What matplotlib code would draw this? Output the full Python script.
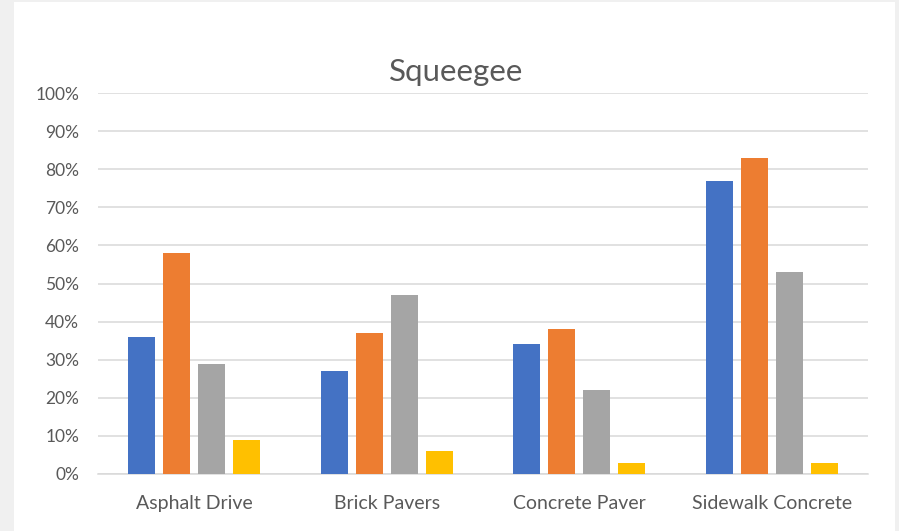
import matplotlib
matplotlib.use("Agg")
import matplotlib.pyplot as plt
from matplotlib.patches import Rectangle
from matplotlib.ticker import PercentFormatter, MultipleLocator
import numpy as np

categories = ["Asphalt Drive", "Brick Pavers", "Concrete Paver", "Sidewalk Concrete"]
series_1 = [36, 27, 34, 77]
series_2 = [58, 37, 38, 83]
series_3 = [29, 47, 22, 53]
series_4 = [9, 6, 3, 3]
colors = ["#4472C4", "#ED7D31", "#A5A5A5", "#FFC000"]

plt.rcParams["font.family"] = ["Lato", "DejaVu Sans"]

W, H = 899, 531
fig = plt.figure(figsize=(W / 100, H / 100), dpi=100)
fig.patch.set_facecolor("#F0F0F0")
fig.patches.append(Rectangle((14 / W, 0), (895 - 14) / W, (H - 2) / H,
                             transform=fig.transFigure, facecolor="white",
                             edgecolor="none", zorder=-10))

left, right = 98 / W, 868 / W
bottom, top = 1 - 474 / H, 1 - 93 / H
ax = fig.add_axes([left, bottom, right - left, top - bottom])
ax.set_facecolor("none")
ax.set_zorder(1)

x = np.arange(len(categories))
step = 35 / 192.5
width = 27 / 192.5
for i, (vals, c) in enumerate(zip([series_1, series_2, series_3, series_4], colors)):
    ax.bar(x + (i - 1.5) * step, vals, width=width, color=c, zorder=3)

ax.set_xlim(-0.5, len(categories) - 0.5)
ax.set_ylim(0, 100)
ax.yaxis.set_major_locator(MultipleLocator(10))
ax.yaxis.set_major_formatter(PercentFormatter(decimals=0))
ax.grid(axis="y", color="#D9D9D9", linewidth=1.1, zorder=0)
for s in ["top", "right", "left"]:
    ax.spines[s].set_visible(False)
ax.spines["bottom"].set_color("#D9D9D9")
ax.spines["bottom"].set_linewidth(1.1)
ax.tick_params(axis="both", length=0, colors="#595959")
ax.tick_params(axis="y", pad=13.5, labelsize=12.5)
ax.tick_params(axis="x", pad=15, labelsize=14)
ax.set_xticks(x)
ax.set_xticklabels(categories)

fig.text(456 / W, 1 - 72 / H, "Squeegee", ha="center", va="center",
         fontsize=22.5, color="#595959", zorder=2)

fig.savefig("out.png", dpi=100, facecolor=fig.get_facecolor())
